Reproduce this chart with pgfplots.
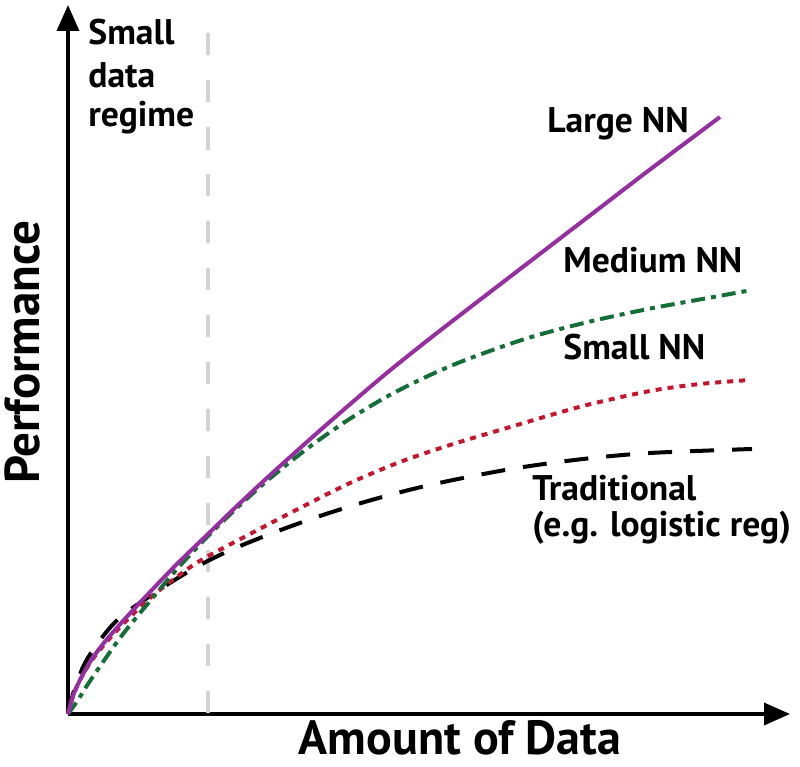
\documentclass[border=0pt]{standalone}
\usepackage{fontspec}
\setmainfont{PT Sans}
\usepackage{pgfplots}
\pgfplotsset{compat=1.18}
\usetikzlibrary{arrows.meta}
\definecolor{cpurple}{RGB}{150,45,160}
\definecolor{cgreen}{RGB}{20,110,55}
\definecolor{cred}{RGB}{200,20,45}
\definecolor{cgray}{RGB}{210,210,210}
\begin{document}
\begin{tikzpicture}[x=0.5pt,y=0.5pt]
\useasboundingbox (-68,-53) rectangle (732,714);
\begin{axis}[at={(0,0)},anchor=origin,
  scale only axis, width=361pt, height=354.5pt,
  xmin=0, xmax=722, ymin=0, ymax=709,
  axis lines=left, axis line style={line width=1.8pt, -{Triangle[length=13pt,width=11pt]}},
  xtick=\empty, ytick=\empty, clip=false,
  every axis plot/.append style={line width=2pt, smooth}]
\addplot[cgray, line width=2pt, dash pattern=on 11pt off 12.5pt, smooth=false] coordinates {(140,681) (140,0)};
\addplot[black, dash pattern=on 12pt off 9pt] coordinates {(0,0) (5,20) (15,47) (25,64) (40,84) (55,99) (82,118) (105,133) (132,149) (165,165) (210,183) (255,199) (300,213) (345,225) (390,235) (449,246) (515,255) (582,261) (684,265)};
\addplot[cred, dash pattern=on 3pt off 3pt] coordinates {(0,0) (5,18) (12,34) (22,51) (35,68) (55,90) (82,116) (110,138) (135,155) (182,180) (232,206) (282,231) (332,252) (382,269) (449,289) (515,308) (582,323) (632,330) (682,334)};
\addplot[cgreen, dash pattern=on 7pt off 3pt on 2.5pt off 3pt] coordinates {(0,0) (10,14) (20,30) (35,52) (55,80) (82,113) (110,146) (140,178) (170,207) (200,234) (240,266) (280,294) (320,318) (360,338) (400,355) (460,376) (520,392) (580,405) (640,416) (684,424)};
\addplot[cpurple] coordinates {(0,0) (5,18) (12,34) (22,52) (35,70) (55,93) (82,122) (110,151) (140,180) (170,209) (200,237) (240,273) (280,308) (320,342) (360,374) (400,405) (460,451) (520,497) (580,543) (652,597)};
\tikzset{lbl/.style={font=\fontsize{17.8}{20.5}\selectfont\bfseries, anchor=base west, inner sep=0pt}}
\node[lbl] at (axis cs:479,581) {Large NN};
\node[lbl] at (axis cs:495,441) {Medium NN};
\node[lbl] at (axis cs:495,354) {Small NN};
\node[lbl] at (axis cs:464,213) {Traditional};
\node[lbl] at (axis cs:464,177) {(e.g. logistic reg)};
\node[lbl] at (axis cs:20,669) {Small};
\node[lbl] at (axis cs:20,626) {data};
\node[lbl] at (axis cs:20,587) {regime};
\node[font=\fontsize{24}{28}\selectfont\bfseries, anchor=base, inner sep=0pt] at (axis cs:392,-41) {Amount of Data};
\node[font=\fontsize{24.5}{28}\selectfont\bfseries, rotate=90, anchor=base, inner sep=0pt] at (axis cs:-28,362) {Performance};
\end{axis}
\end{tikzpicture}
\end{document}
